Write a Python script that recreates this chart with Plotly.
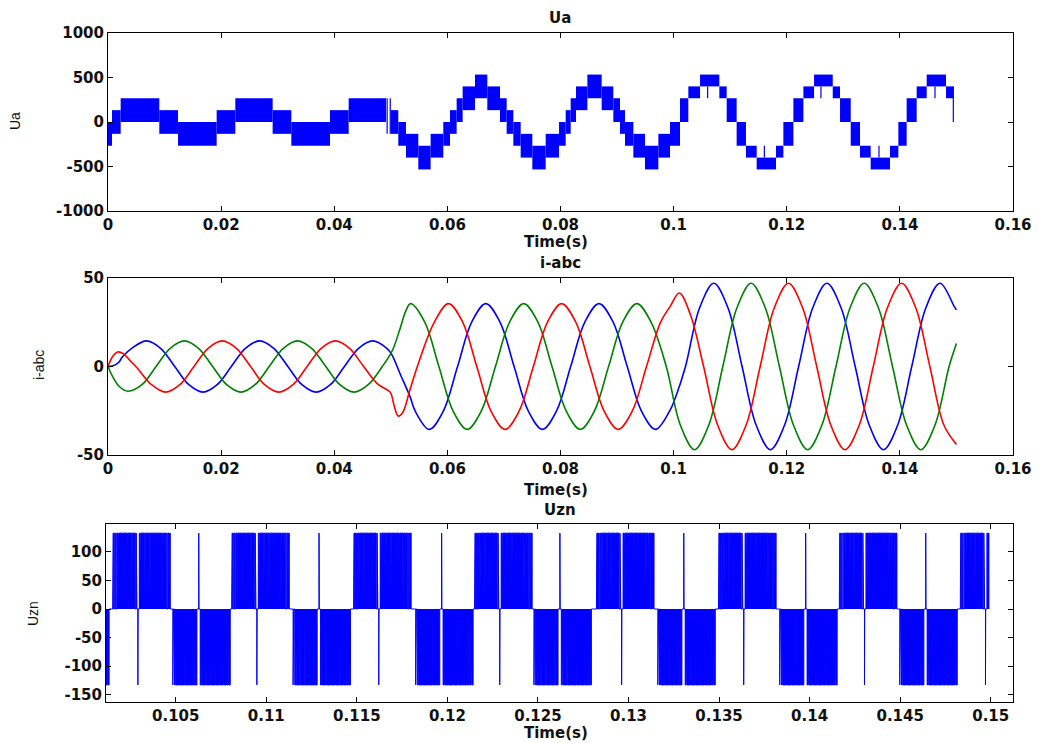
import plotly.graph_objects as go

W, H = 1040, 743

# ---------------- Ua : multilevel phase voltage (PWM band between levels) ----
ua_t_start = [0.0, 0.00071, 0.00224, 0.00907, 0.01238, 0.01921, 0.02251, 0.02911,
              0.03241, 0.03925, 0.04255,
              0.05000, 0.05132, 0.05268, 0.05486, 0.05704, 0.05928, 0.06046, 0.06164,
              0.06270, 0.06488, 0.06706, 0.06930, 0.07048, 0.07166, 0.07296, 0.07502,
              0.07738, 0.07974, 0.08092, 0.08180, 0.08274, 0.08475, 0.08728, 0.08934,
              0.09052, 0.09140, 0.09288, 0.09494, 0.09730, 0.09936,
              0.10113, 0.10260, 0.10467, 0.10808, 0.10938, 0.11114, 0.11279, 0.11468,
              0.11810, 0.11940, 0.12117, 0.12294, 0.12483, 0.12813, 0.12942, 0.13131,
              0.13295, 0.13484, 0.13826, 0.13973, 0.14120, 0.14297, 0.14474, 0.14816]
ua_t_end = [0.00071, 0.00224, 0.00907, 0.01238, 0.01921, 0.02251, 0.02911, 0.03241,
            0.03925, 0.04255, 0.04915,
            0.05132, 0.05268, 0.05486, 0.05704, 0.05928, 0.06046, 0.06164, 0.06270,
            0.06488, 0.06706, 0.06930, 0.07048, 0.07166, 0.07296, 0.07502, 0.07738,
            0.07974, 0.08092, 0.08180, 0.08274, 0.08475, 0.08728, 0.08934, 0.09052,
            0.09140, 0.09288, 0.09494, 0.09730, 0.09936, 0.10113,
            0.10260, 0.10467, 0.10808, 0.10938, 0.11114, 0.11279, 0.11468, 0.11810,
            0.11940, 0.12117, 0.12294, 0.12483, 0.12813, 0.12942, 0.13131, 0.13295,
            0.13484, 0.13826, 0.13973, 0.14120, 0.14297, 0.14474, 0.14816, 0.14945]
ua_low = [-267, -133, 0, -133, -267, -133, 0, -133, -267, -133, 0,
          -133, -267, -400, -533, -400, -267, -133, 0, 133, 267, 133, 0, -133, -267,
          -400, -533, -400, -267, -133, 0, 133, 267, 133, 0, -133, -267, -400, -533,
          -400, -267,
          0, 267, 400, 267, 0, -267, -400, -533, -400, -267, 0, 267, 400, 267, 0,
          -267, -400, -533, -400, -267, 0, 267, 400, 267]
ua_high = [0, 133, 267, 133, 0, 133, 267, 133, 0, 133, 267,
           133, 0, -133, -267, -133, 0, 133, 267, 400, 533, 400, 267, 133, 0,
           -133, -267, -133, 0, 133, 267, 400, 533, 400, 267, 133, 0, -133, -267,
           -133, 0,
           267, 400, 533, 400, 267, 0, -267, -400, -267, 0, 267, 400, 533, 400, 267,
           0, -267, -400, -267, 0, 267, 400, 533, 400]
# isolated switching lines
ua_line_t = [0.04935, 0.04990, 0.10601, 0.11604, 0.12605, 0.13631, 0.14621, 0.14945]
ua_line_from = [-133, -133, 400, -400, 400, -400, 400, 400]
ua_line_to = [267, 267, 267, -267, 267, -267, 267, 0]

# ---------------- i-abc : phase currents -------------------------------------
ia_t = [0, 0.0008, 0.0018, 0.0026, 0.0043, 0.0068, 0.0093, 0.0118, 0.0143, 0.0168,
        0.0193, 0.0218, 0.0243, 0.0268, 0.0293, 0.0318, 0.0343, 0.0368, 0.0393,
        0.0418, 0.0443, 0.0468, 0.0493, 0.0502, 0.0516, 0.0534, 0.0543, 0.0568,
        0.0593, 0.0618, 0.0643, 0.0668, 0.0693, 0.0718, 0.0743, 0.0768, 0.0793,
        0.0818, 0.0843, 0.0868, 0.0893, 0.0918, 0.0943, 0.0968, 0.0993, 0.1005,
        0.1021, 0.1046, 0.1071, 0.1096, 0.1121, 0.1146, 0.1171, 0.1196, 0.1221,
        0.1246, 0.1271, 0.1296, 0.1321, 0.1346, 0.1371, 0.1396, 0.1421, 0.1446,
        0.1471, 0.1496, 0.1500]
ia = [0, 0.3, 2.0, 5.6, 10.5, 14.5, 10.3, 0, -10.3, -14.5,
      -10.3, 0, 10.3, 14.5, 10.3, 0, -10.3, -14.5, -10.3,
      0, 10.3, 14.5, 10.3, 6.6, -3.8, -17.0, -25.1, -35.5,
      -25.1, 0, 25.1, 35.5, 25.1, 0, -25.1, -35.5, -25.1,
      0, 25.1, 35.5, 25.1, 0, -25.1, -35.5, -25.1, -16.0,
      0, 33.2, 47.0, 33.2, 0, -33.2, -47.0, -33.2, 0,
      33.2, 47.0, 33.2, 0, -33.2, -47.0, -33.2, 0, 33.2,
      47.0, 34.0, 32.0]

ib_t = [0, 0.0008, 0.0020, 0.0035, 0.0060, 0.0085, 0.0110, 0.0135, 0.0160, 0.0185,
        0.0210, 0.0235, 0.0260, 0.0285, 0.0310, 0.0335, 0.0360, 0.0385, 0.0410,
        0.0435, 0.0460, 0.0485, 0.0502, 0.0516, 0.0526, 0.0535, 0.0560, 0.0585,
        0.0610, 0.0635, 0.0660, 0.0685, 0.0710, 0.0735, 0.0760, 0.0785, 0.0810,
        0.0835, 0.0860, 0.0885, 0.0910, 0.0935, 0.0960, 0.0987, 0.1012, 0.1037,
        0.1062, 0.1087, 0.1112, 0.1137, 0.1162, 0.1187, 0.1212, 0.1237, 0.1262,
        0.1287, 0.1312, 0.1337, 0.1362, 0.1387, 0.1412, 0.1437, 0.1462, 0.1487,
        0.1500]
ib = [0, -5.6, -11.3, -14.0, -10.3, 0, 10.3, 14.5, 10.3, 0,
      -10.3, -14.5, -10.3, 0, 10.3, 14.5, 10.3, 0, -10.3,
      -14.5, -10.3, 0, 8.5, 21.0, 31.0, 35.5, 25.1, 0,
      -25.1, -35.5, -25.1, 0, 25.1, 35.5, 25.1, 0, -25.1,
      -35.5, -25.1, 0, 25.1, 35.5, 25.1, 0, -33.2, -47.0,
      -33.2, 0, 33.2, 47.0, 33.2, 0, -33.2, -47.0, -33.2,
      0, 33.2, 47.0, 33.2, 0, -33.2, -47.0, -33.2, 0,
      13.0]

ic_t = [0, 0.0008, 0.0017, 0.0027, 0.0040, 0.0052, 0.0077, 0.0102, 0.0127, 0.0152,
        0.0177, 0.0202, 0.0227, 0.0252, 0.0277, 0.0302, 0.0327, 0.0352, 0.0377,
        0.0402, 0.0427, 0.0452, 0.0477, 0.0495, 0.0500, 0.0505, 0.0513, 0.0521,
        0.0534, 0.0549, 0.0577, 0.0602, 0.0627, 0.0652, 0.0677, 0.0702, 0.0727,
        0.0752, 0.0777, 0.0802, 0.0827, 0.0852, 0.0877, 0.0902, 0.0927, 0.0952,
        0.0977, 0.0994, 0.1010, 0.1030, 0.1053, 0.1078, 0.1103, 0.1128, 0.1153,
        0.1178, 0.1203, 0.1228, 0.1253, 0.1278, 0.1303, 0.1328, 0.1353, 0.1378,
        0.1403, 0.1428, 0.1453, 0.1478, 0.1500]
ic = [0, 5.5, 8.2, 7.3, 3.0, -1.0, -10.3, -14.5, -10.3, 0,
      10.3, 14.5, 10.3, 0, -10.3, -14.5, -10.3, 0, 10.3,
      14.5, 10.3, 0, -10.0, -13.5, -15.0, -21.0, -28.0, -26.0,
      -13.0, 2.0, 25.1, 35.5, 25.1, 0, -25.1, -35.5, -25.1,
      0, 25.1, 35.5, 25.1, 0, -25.1, -35.5, -25.1, 0,
      25.1, 34.0, 41.5, 29.0, 0, -33.2, -47.0, -33.2, 0,
      33.2, 47.0, 33.2, 0, -33.2, -47.0, -33.2, 0, 33.2,
      47.0, 33.2, 0, -33.2, -44.0]

# ---------------- Uzn : common-mode voltage, switching pattern ----------------
# pulse pattern (ms after the start of a positive / negative group)
pos_on = [0.000, 0.022, 0.110, 0.220, 0.330, 0.600, 0.830, 1.080, 1.300, 1.390,
          1.470, 1.560, 1.800, 2.080, 2.340, 2.560, 2.760, 2.900, 3.040, 3.140, 3.180]
pos_off = [0.022, 0.060, 0.160, 0.290, 0.570, 0.800, 1.050, 1.250, 1.340, 1.402,
           1.520, 1.770, 2.050, 2.310, 2.530, 2.720, 2.860, 2.990, 3.100, 3.180, 3.213]
pos_level = [67, 133, 133, 133, 133, 133, 133, 133, 133, -133,
             133, 133, 133, 133, 133, 133, 133, 133, 133, 133, 67]
neg_on = [0.020, 0.110, 0.200, 0.420, 0.700, 0.950, 1.200, 1.452, 1.530, 1.620,
          1.860, 2.120, 2.390, 2.620, 2.830, 2.990, 3.120]
neg_off = [0.060, 0.160, 0.390, 0.670, 0.920, 1.170, 1.350, 1.464, 1.580, 1.830,
           2.090, 2.360, 2.590, 2.800, 2.960, 3.080, 3.191]
neg_level = [-133, -133, -133, -133, -133, -133, -133, 133, -133, -133,
             -133, -133, -133, -133, -133, -133, -133]
uzn_pos_start = [0.10152, 0.10809, 0.11482, 0.12150, 0.12823, 0.13497, 0.14164, 0.14832]
uzn_neg_start = [0.09813, 0.10482, 0.11146, 0.11823, 0.12476, 0.13160, 0.13833, 0.14496]
uzn_t_end = 0.1499

# ---------------- build traces -----------------------------------------------
BLUE, GREEN, RED = "#0000ff", "#008000", "#ff0000"

fig = go.Figure()

fig.add_trace(go.Bar(
    x=[(a + b) / 2 for a, b in zip(ua_t_start, ua_t_end)],
    y=[h - l for l, h in zip(ua_low, ua_high)],
    base=ua_low,
    width=[b - a for a, b in zip(ua_t_start, ua_t_end)],
    marker=dict(color=BLUE, line=dict(width=0)),
    xaxis="x", yaxis="y", showlegend=False, hoverinfo="skip"))

lx, ly = [], []
for t, a, b in zip(ua_line_t, ua_line_from, ua_line_to):
    lx += [t, t, None]
    ly += [a, b, None]
fig.add_trace(go.Scatter(x=lx, y=ly, mode="lines", line=dict(color=BLUE, width=1.2),
                         xaxis="x", yaxis="y", showlegend=False, hoverinfo="skip"))

for tt, vv, col in ((ia_t, ia, BLUE), (ib_t, ib, GREEN), (ic_t, ic, RED)):
    fig.add_trace(go.Scatter(x=tt, y=vv, mode="lines",
                             line=dict(color=col, width=1.6, shape="spline", smoothing=1.0),
                             xaxis="x2", yaxis="y2", showlegend=False, hoverinfo="skip"))

pulses = []
for s in uzn_pos_start:
    for a, b, lv in zip(pos_on, pos_off, pos_level):
        pulses.append((s + a * 1e-3, s + b * 1e-3, lv))
for s in uzn_neg_start:
    for a, b, lv in zip(neg_on, neg_off, neg_level):
        pulses.append((s + a * 1e-3, s + b * 1e-3, lv))
pulses.sort()
ux, uy = [], []
for a, b, lv in pulses:
    if a >= uzn_t_end:
        continue
    b = min(b, uzn_t_end)
    ux += [a, a, b, b]
    uy += [0, lv, lv, 0]
fig.add_trace(go.Scatter(x=ux, y=uy, mode="lines", line=dict(color=BLUE, width=1),
                         fill="tozeroy", fillcolor=BLUE,
                         xaxis="x3", yaxis="y3", showlegend=False, hoverinfo="skip"))

# ---------------- axes -------------------------------------------------------
TICKFONT = dict(family="DejaVu Sans", size=15, color="#111111", weight="bold")


def axis(domain, anchor, **kw):
    d = dict(domain=domain, anchor=anchor, showline=True, linecolor="#000000",
             linewidth=1, mirror="ticks", ticks="inside", ticklen=5, tickwidth=1,
             tickcolor="#000000", showgrid=False, zeroline=False, tickfont=TICKFONT,
             fixedrange=True, automargin=False)
    d.update(kw)
    return d


t_ticks = [0, 0.02, 0.04, 0.06, 0.08, 0.10, 0.12, 0.14, 0.16]
t_text = ["0", "0.02", "0.04", "0.06", "0.08", "0.1", "0.12", "0.14", "0.16"]
z_ticks = [0.105, 0.11, 0.115, 0.12, 0.125, 0.13, 0.135, 0.14, 0.145, 0.15]
z_text = ["0.105", "0.11", "0.115", "0.12", "0.125", "0.13", "0.135", "0.14", "0.145", "0.15"]

fig.update_layout(
    width=W, height=H, margin=dict(l=0, r=0, t=0, b=0, pad=0, autoexpand=False),
    paper_bgcolor="white", plot_bgcolor="white", barmode="overlay",
    xaxis=axis([108 / W, 1013 / W], "y", range=[0, 0.16], tickvals=t_ticks, ticktext=t_text),
    yaxis=axis([1 - 211 / H, 1 - 33 / H], "x", range=[-1000, 1000],
               tickvals=[-1000, -500, 0, 500, 1000],
               ticktext=["-1000", "-500", "0", "500", "1000"]),
    xaxis2=axis([108 / W, 1013 / W], "y2", range=[0, 0.16], tickvals=t_ticks, ticktext=t_text),
    yaxis2=axis([1 - 455 / H, 1 - 278 / H], "x2", range=[-50, 50], tickvals=[-50, 0, 50],
                ticktext=["-50", "0", "50"]),
    xaxis3=axis([106 / W, 1013 / W], "y3", range=[0.10115, 0.15123],
                tickvals=z_ticks, ticktext=z_text),
    yaxis3=axis([1 - 702 / H, 1 - 524 / H], "x3", range=[-163, 149],
                tickvals=[-150, -100, -50, 0, 50, 100],
                ticktext=["-150", "-100", "-50", "0", "50", "100"]),
)

BOLD = dict(family="DejaVu Sans", size=15, color="#111111", weight="bold")
REG = dict(family="Liberation Sans", size=14, color="#111111")


def note(text, x, y, font, angle=0):
    fig.add_annotation(text=text, x=x / W, y=1 - y / H, xref="paper", yref="paper",
                       showarrow=False, font=font, textangle=angle,
                       xanchor="center", yanchor="middle")


note("Ua", 560, 18, BOLD)
note("i-abc", 560, 263, BOLD)
note("Uzn", 560, 510, BOLD)
note("Time(s)", 556, 242, BOLD)
note("Time(s)", 556, 490, BOLD)
note("Time(s)", 556, 733, BOLD)
note("Ua", 15, 121, REG, -90)
note("i-abc", 39, 365, REG, -90)
note("Uzn", 33, 614, REG, -90)

fig.write_html("out.html")
